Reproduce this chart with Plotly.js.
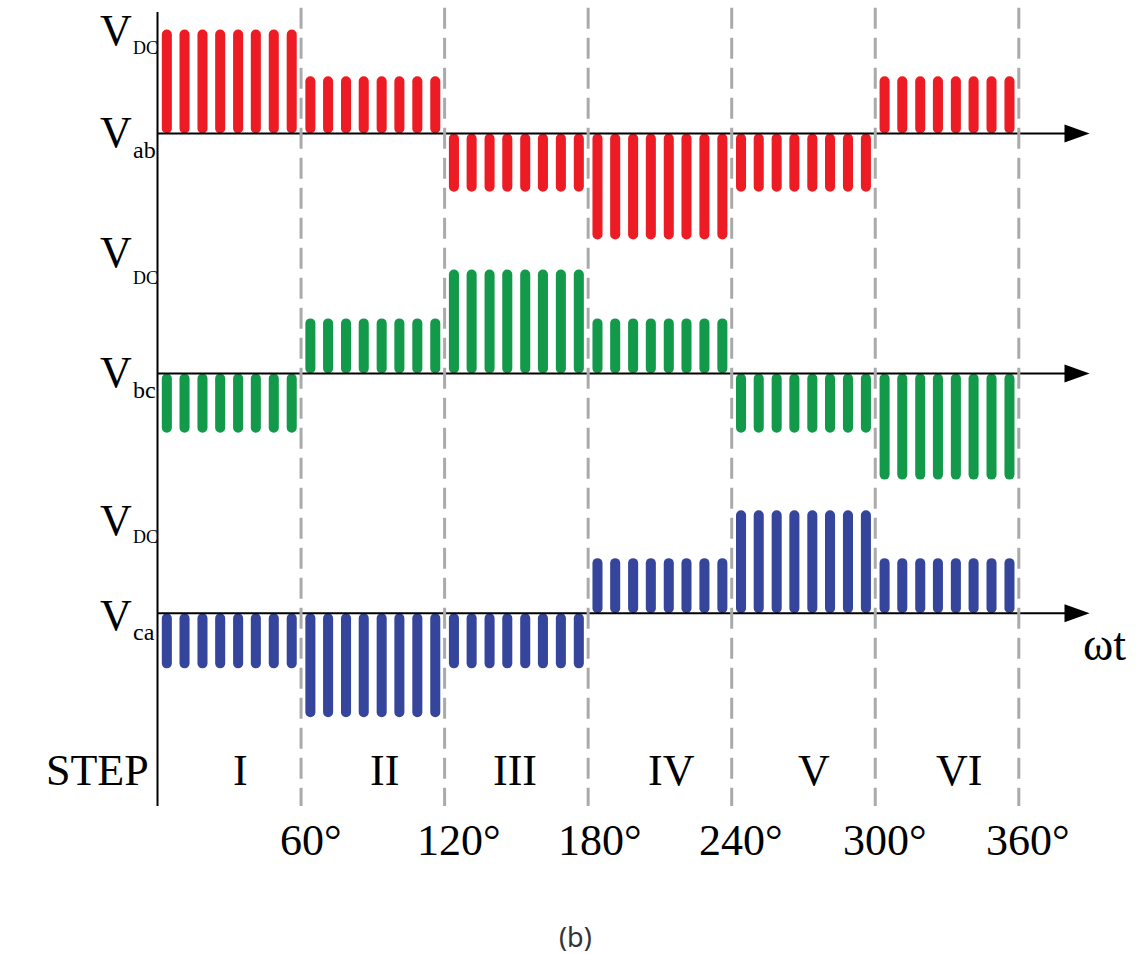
<!DOCTYPE html>
<html><head><meta charset="utf-8">
<script src="https://cdn.plot.ly/plotly-3.0.1.min.js"></script>
<style>html,body{margin:0;padding:0;background:#fff}#chart{width:1143px;height:954px}</style>
</head><body><div id="chart"></div>
<script>
// ---- data ----
const steps = ['I', 'II', 'III', 'IV', 'V', 'VI'];
const stepStartDeg = [0, 60, 120, 180, 240, 300];
const pulseOffsetDeg = [3.9, 11.3, 18.8, 26.2, 33.7, 41.1, 48.6, 56.1];
const vab = [1.00, 0.55, -0.56, -1.02, -0.56, 0.55];
const vbc = [-0.57, 0.53, 1.00, 0.53, -0.57, -1.02];
const vca = [-0.53, -1.00, -0.53, 0.53, 0.99, 0.53];
const angleTicks = [60, 120, 180, 240, 300, 360];
const angleLabels = ['60°', '120°', '180°', '240°', '300°', '360°'];
const rowSubs = ['ab', 'bc', 'ca'];
const levelLabel = 'V';
const levelSub = 'DC';

// ---- layout geometry ----
const W = 1143, H = 954;
const rowBase = [0, -2.308, -4.613];
const colors = ['#ED1C24', '#12994A', '#35459B'];
const series = [vab, vbc, vca];
const FONT = 'Liberation Serif, Times New Roman, serif';

const traces = series.map((vals, r) => {
  const x = [], y = [];
  steps.forEach((s, i) => {
    pulseOffsetDeg.forEach(o => { x.push(stepStartDeg[i] + o); y.push(vals[i]); });
  });
  return {
    type: 'bar', x: x, y: y, base: rowBase[r], width: 4.2,
    marker: {color: colors[r], cornerradius: '50%', line: {width: 0}},
    hoverinfo: 'skip', showlegend: false
  };
});

const shapes = [];
// vertical axis
shapes.push({type: 'line', xref: 'x', yref: 'y', x0: 0, x1: 0, y0: 1.168, y1: -6.466,
  line: {color: '#000', width: 2}, layer: 'above'});
rowBase.forEach(b => {
  shapes.push({type: 'line', xref: 'x', yref: 'y', x0: 0, x1: 380, y0: b, y1: b,
    line: {color: '#000', width: 2}, layer: 'above'});
  shapes.push({type: 'path', xref: 'x', yref: 'y',
    path: `M 379.1 ${b + 0.086} L 389.6 ${b} L 379.1 ${b - 0.086} Z`,
    fillcolor: '#000', line: {width: 0}, layer: 'above'});
});
angleTicks.forEach(t => {
  shapes.push({type: 'line', xref: 'x', yref: 'y', x0: t, x1: t, y0: 1.21, y1: -6.466,
    line: {color: '#AAAAAA', width: 3, dash: '21px,9px'}, layer: 'above'});
});

// annotations helpers (pixel positions)
function px(x) { return x / W; }
function py(y) { return 1 - y / H; }
const ann = [];
function txt(text, xpx, basepx, size, xanchor, fam, color) {
  ann.push({text: text, xref: 'paper', yref: 'paper', x: px(xpx), y: py(basepx - 0.3375 * size),
    xanchor: xanchor, yanchor: 'middle', showarrow: false, borderpad: 0,
    font: {family: fam || FONT, size: size, color: color || '#000'}});
}
// row labels: big V plus a separate small subscript
const vdcBase = [[45, 54], [267, 284], [535, 543]];
const vrowBase = [[147, 158], [387, 398], [630, 640]];
for (let r = 0; r < 3; r++) {
  txt(levelLabel, 99, vdcBase[r][0], 44, 'left');
  txt(levelSub, 132, vdcBase[r][1], 18, 'left');
  txt(levelLabel, 99, vrowBase[r][0], 44, 'left');
  txt(rowSubs[r], 132, vrowBase[r][1], 24, 'left');
}
txt('STEP', 45, 785, 44, 'left');
const stepCenters = [240, 384, 515, 671, 814, 959];
steps.forEach((s, i) => txt(s, stepCenters[i], 785, 44, 'center'));
const angleCenters = [311, 459, 600, 741, 885, 1028];
angleLabels.forEach((s, i) => txt(s, angleCenters[i], 855, 44, 'center'));
txt('ωt', 1104, 660, 46, 'center');
ann.push({text: '(b)', xref: 'paper', yref: 'paper', x: px(575), y: py(936), xanchor: 'center', yanchor: 'middle',
  showarrow: false, font: {family: 'Noto Sans, DejaVu Sans, sans-serif', size: 27, color: '#333'}});

const layout = {
  width: W, height: H, margin: {l: 0, r: 0, t: 0, b: 0},
  paper_bgcolor: '#fff', plot_bgcolor: '#fff', barmode: 'overlay', showlegend: false,
  xaxis: {range: [-157.5 / 2.3925, (W - 157.5) / 2.3925], visible: false, fixedrange: true},
  yaxis: {range: [(133.5 - H) / 104, 133.5 / 104], visible: false, fixedrange: true},
  shapes: shapes, annotations: ann
};
Plotly.newPlot('chart', traces, layout, {displayModeBar: false, staticPlot: true});
</script></body></html>
